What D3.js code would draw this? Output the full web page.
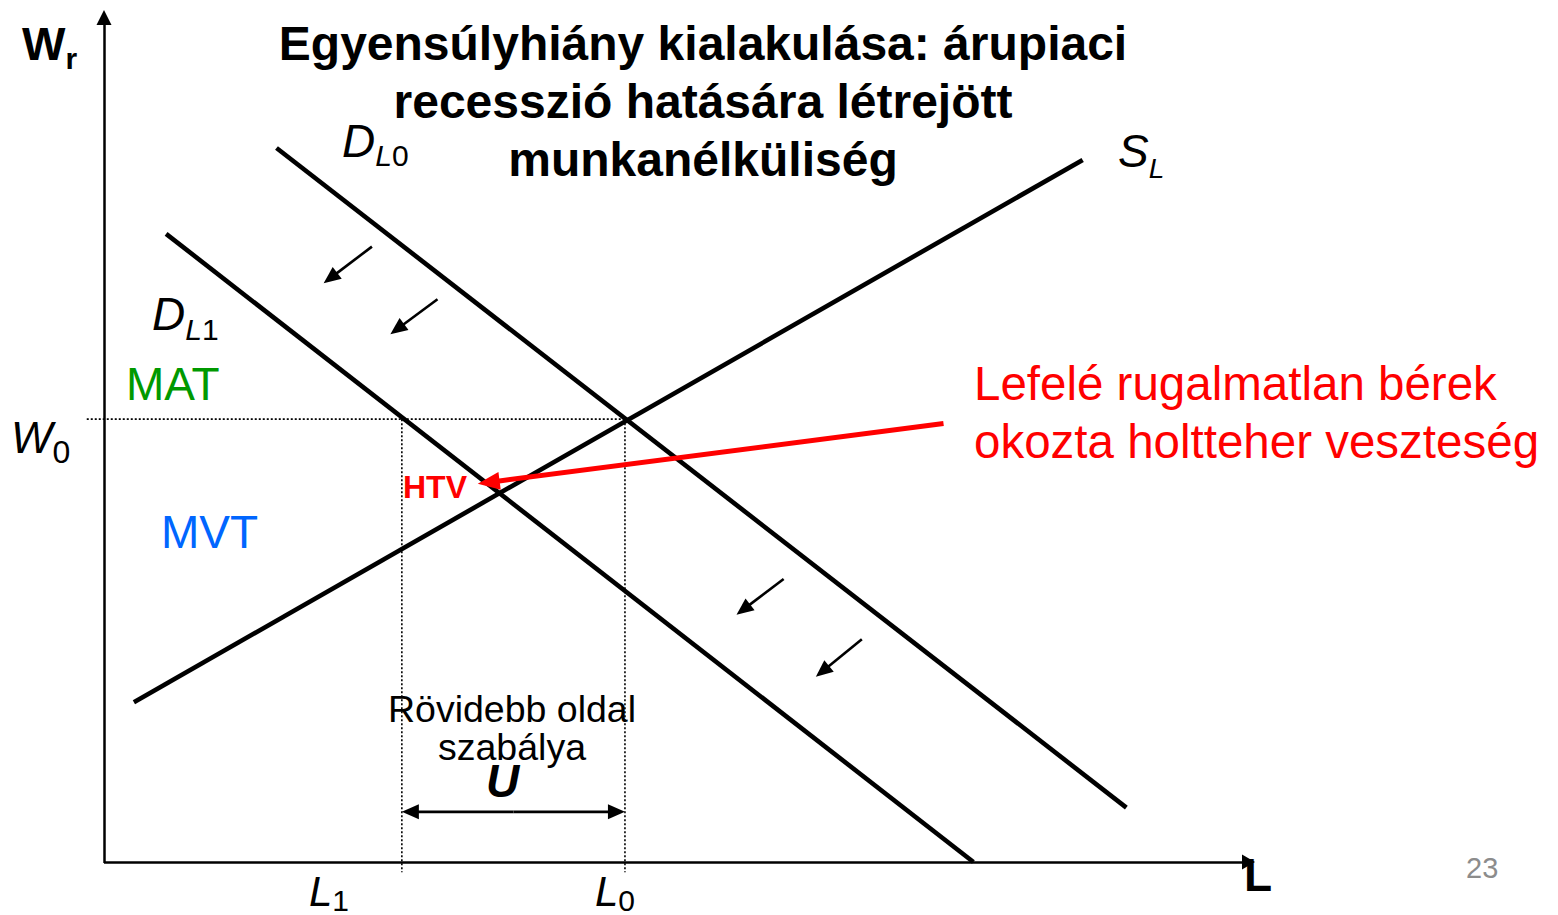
<!DOCTYPE html>
<html>
<head>
<meta charset="utf-8">
<script src="https://cdn.jsdelivr.net/npm/d3@7"></script>
<style>
  html, body { margin: 0; padding: 0; background: #fff; }
  svg { display: block; }
  text { font-family: "Liberation Sans", Arial, Helvetica, sans-serif; }
</style>
</head>
<body>
<svg id="chart" width="1558" height="915"></svg>
<script>
// Labour market curves, endpoints as (labour, real wage) on a 0–100 scale
const supplyS  = [[2.6, 18.8], [85.1, 82.6]];
const demandD0 = [[15.0, 84.0], [88.9, 6.4]];
const demandD1 = [[5.4, 73.9], [75.6, 0.0]];

// Rigid wage and the two employment levels
const wageW0   = 52.1;
const employL1 = 25.9;
const employL0 = 45.3;

// Small arrows showing the leftward shift of labour demand
const shiftArrows = [
  [[23.3, 72.4], [19.1, 68.1]],
  [[29.0, 66.2], [24.9, 62.1]],
  [[59.1, 33.3], [55.0, 29.1]],
  [[65.9, 26.2], [61.9, 21.8]]
];

// Pointer from the note to the deadweight loss triangle
const dwlArrow = [[73.0, 51.6], [32.5, 44.5]];

// Height of the unemployment span arrow
const unemploymentY = 5.9;

const titleLines = ["Egyensúlyhiány kialakulása: árupiaci", "recesszió hatására létrejött", "munkanélküliség"];
const noteLines  = ["Lefelé rugalmatlan bérek", "okozta holtteher veszteség"];
const ruleLines  = ["Rövidebb oldal", "szabálya"];
const pageNumber = "23";

const svg = d3.select("#chart");

const x = d3.scaleLinear().domain([0, 100]).range([104, 1254]);
const y = d3.scaleLinear().domain([0, 100]).range([862, 12]);

const line = d3.line().x(d => x(d[0])).y(d => y(d[1]));

// Arrow: shaft plus filled triangular head at the end point
function arrow(g, p1, p2, opt) {
  const dx = p2[0] - p1[0], dy = p2[1] - p1[1];
  const len = Math.hypot(dx, dy);
  const ux = dx / len, uy = dy / len;
  const bx = p2[0] - ux * opt.head, by = p2[1] - uy * opt.head;
  g.append("line")
    .attr("x1", p1[0]).attr("y1", p1[1])
    .attr("x2", bx + ux * 2).attr("y2", by + uy * 2)
    .attr("stroke", opt.color).attr("stroke-width", opt.width);
  g.append("path")
    .attr("d", `M${p2[0]},${p2[1]}L${bx - uy * opt.half},${by + ux * opt.half}L${bx + uy * opt.half},${by - ux * opt.half}Z`)
    .attr("fill", opt.color);
}
const toPx = p => [x(p[0]), y(p[1])];

// Axes (no ticks, just the lines)
const axes = svg.append("g");
axes.append("g")
  .attr("transform", `translate(0,${y(0)})`)
  .call(d3.axisBottom(x).tickValues([]).tickSizeOuter(0))
  .call(g => g.select(".domain").attr("stroke", "#000").attr("stroke-width", 2.5)
    .attr("d", `M${x(0)},0.5H${x(100) - 8}`));
axes.append("g")
  .attr("transform", `translate(${x(0)},0)`)
  .call(d3.axisLeft(y).tickValues([]).tickSizeOuter(0))
  .call(g => g.select(".domain").attr("stroke", "#000").attr("stroke-width", 2.5)
    .attr("d", `M0.5,${y(0) + 1}V${y(100) + 10}`));
axes.append("path")
  .attr("d", `M${x(0)},${y(100) - 2}l-7.5,15h15z`).attr("fill", "#000");
axes.append("path")
  .attr("d", `M${x(100) + 1},${y(0)}l-13,-7.5v15z`).attr("fill", "#000");

// Dotted guide lines
const guides = svg.append("g")
  .attr("stroke", "#000").attr("stroke-width", 1.6).attr("stroke-dasharray", "2,2").attr("fill", "none");
guides.append("line")
  .attr("x1", x(-1.5)).attr("x2", x(employL0))
  .attr("y1", y(wageW0)).attr("y2", y(wageW0));
[employL1, employL0].forEach(v => {
  guides.append("line")
    .attr("x1", x(v)).attr("x2", x(v))
    .attr("y1", y(wageW0)).attr("y2", y(-1.2));
});

// Supply and demand curves
const curves = svg.append("g").attr("fill", "none").attr("stroke", "#000").attr("stroke-width", 4.6);
[supplyS, demandD0, demandD1].forEach(c => curves.append("path").attr("d", line(c)));

// Demand shift arrows
const shifts = svg.append("g");
shiftArrows.forEach(a => arrow(shifts, toPx(a[0]), toPx(a[1]), { color: "#000", width: 2.6, head: 17, half: 7.5 }));

// Unemployment span (double-headed)
const uy = y(unemploymentY);
const mid = (x(employL1) + x(employL0)) / 2;
const span = svg.append("g");
arrow(span, [mid, uy], [x(employL0), uy], { color: "#000", width: 2.6, head: 17, half: 7.5 });
arrow(span, [mid, uy], [x(employL1), uy], { color: "#000", width: 2.6, head: 17, half: 7.5 });

// Red pointer
arrow(svg.append("g"), toPx(dwlArrow[0]), toPx(dwlArrow[1]), { color: "#ff0000", width: 5, head: 22, half: 9 });

// Title
const title = svg.append("text")
  .attr("text-anchor", "middle").attr("font-size", 48).attr("font-weight", "bold").attr("fill", "#000");
titleLines.forEach((t, i) => title.append("tspan").attr("x", 703).attr("y", 60 + i * 58).text(t));

// Axis names
const wr = svg.append("text").attr("x", 22).attr("y", 60).attr("font-size", 46).attr("font-weight", "bold");
wr.append("tspan").text("W");
wr.append("tspan").attr("font-size", 30).attr("dy", 9).text("r");
svg.append("text").attr("x", 1244).attr("y", 891).attr("font-size", 46).attr("font-weight", "bold").text("L");

// Curve labels (italic letter with subscript)
function subLabel(px, py, main, sub, subSize, subDy, size) {
  const t = svg.append("text").attr("x", px).attr("y", py).attr("font-size", size);
  t.append("tspan").attr("font-style", "italic").text(main);
  sub.forEach((s, i) => {
    const ts = t.append("tspan").attr("font-size", subSize).text(s.text);
    if (i === 0) ts.attr("dy", subDy);
    if (s.italic) ts.attr("font-style", "italic");
  });
}
subLabel(342, 157, "D", [{ text: "L", italic: true }, { text: "0" }], 30, 9, 46);
subLabel(152, 330, "D", [{ text: "L", italic: true }, { text: "1" }], 30, 10, 46);
subLabel(1118, 167, "S", [{ text: "L", italic: true }], 28, 11, 46);
subLabel(11, 453, "W", [{ text: "0" }], 32, 10, 44);
subLabel(309, 906, "L", [{ text: "1" }], 30, 5, 42);
subLabel(595, 906, "L", [{ text: "0" }], 30, 5, 42);

// Area labels
svg.append("text").attr("x", 126).attr("y", 400).attr("font-size", 46).attr("fill", "#009900").text("MAT");
svg.append("text").attr("x", 161).attr("y", 548).attr("font-size", 46).attr("fill", "#0066ff").text("MVT");
svg.append("text").attr("x", 403).attr("y", 498).attr("font-size", 32).attr("font-weight", "bold").attr("fill", "#ff0000").text("HTV");

// Short-side rule note and U
const rule = svg.append("text").attr("text-anchor", "middle").attr("font-size", 37.5);
ruleLines.forEach((t, i) => rule.append("tspan").attr("x", 512).attr("y", 722 + i * 38).text(t));
svg.append("text").attr("x", 486).attr("y", 797).attr("font-size", 46).attr("font-weight", "bold").attr("font-style", "italic").text("U");

// Red note
const note = svg.append("text").attr("font-size", 47.5).attr("fill", "#ff0000");
noteLines.forEach((t, i) => note.append("tspan").attr("x", 974).attr("y", 400 + i * 58).text(t));

// Page number
svg.append("text").attr("x", 1466).attr("y", 878).attr("font-size", 29).attr("fill", "#8c8c8c").text(pageNumber);
</script>
</body>
</html>
